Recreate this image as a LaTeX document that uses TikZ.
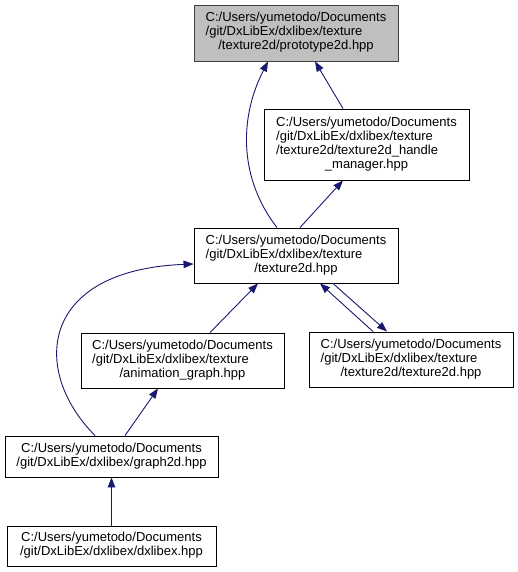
\documentclass[tikz,border=0pt]{standalone}
\usepackage{fontspec}
\setmainfont{Liberation Sans}
\usetikzlibrary{arrows.meta}
\definecolor{edgeblue}{HTML}{191970}
\definecolor{topfill}{HTML}{BFBFBF}
\definecolor{topdraw}{HTML}{404040}
\newcommand{\dxlines}[2]{\begin{tabular}{@{}c@{}}\begin{tabular}[b]{@{}l@{}}#1\end{tabular}\\#2\end{tabular}}
\begin{document}
\begin{tikzpicture}[x=1pt,y=-1pt,
  box/.style={draw=black,line width=0.9pt,fill=white,inner sep=0pt,
    font=\fontsize{13}{14}\selectfont,text=black},
  topbox/.style={box,fill=topfill,draw=topdraw},
  edge/.style={draw=edgeblue,line width=0.9pt,
    -{Triangle[length=10pt,width=7.5pt]}}]
\useasboundingbox (0,0) rectangle (518,572);
\fill[white] (0,0) rectangle (518,572);
\node[topbox,minimum width=204pt,minimum height=56pt] (A) at (296,33)
  {\dxlines{C:/Users/yumetodo/Documents\\/git/DxLibEx/dxlibex/texture}{/texture2d/prototype2d.hpp}};
\node[box,minimum width=205pt,minimum height=71pt] (B) at (366.5,144.5)
  {\dxlines{C:/Users/yumetodo/Documents\\/git/DxLibEx/dxlibex/texture\\/texture2d/texture2d\_handle}{\_manager.hpp}};
\node[box,minimum width=204pt,minimum height=55pt] (C) at (296,255.5)
  {\dxlines{C:/Users/yumetodo/Documents\\/git/DxLibEx/dxlibex/texture}{/texture2d.hpp}};
\node[box,minimum width=203pt,minimum height=55pt] (D) at (182.5,360.5)
  {\dxlines{C:/Users/yumetodo/Documents\\/git/DxLibEx/dxlibex/texture}{/animation\_graph.hpp}};
\node[box,minimum width=204pt,minimum height=55pt] (E) at (411,359.5)
  {\dxlines{C:/Users/yumetodo/Documents\\/git/DxLibEx/dxlibex/texture}{/texture2d/texture2d.hpp}};
\node[box,minimum width=213pt,minimum height=41pt] (F) at (111.5,456.5)
  {\dxlines{C:/Users/yumetodo/Documents}{/git/DxLibEx/dxlibex/graph2d.hpp}};
\node[box,minimum width=209pt,minimum height=40pt] (G) at (111.5,546)
  {\dxlines{C:/Users/yumetodo/Documents}{/git/DxLibEx/dxlibex/dxlibex.hpp}};
% edges
\draw[edge] ([xshift=-19pt]C.north) .. controls (240,180) and (238,120) .. ([xshift=-28pt]A.south);
\draw[edge] ([xshift=-23.5pt]B.north) -- ([xshift=19pt]A.south);
\draw[edge] ([xshift=4pt]C.north) -- ([xshift=-23.5pt]B.south);
\draw[edge] ([xshift=27.5pt]D.north) -- ([xshift=-38pt]C.south);
\draw[edge] ([xshift=-38pt]E.north) -- ([xshift=24pt]C.south);
\draw[edge] ([xshift=37pt]C.south) -- ([xshift=-24pt]E.north);
\draw[edge] ([xshift=-16.5pt]F.north) .. controls (30,370) and (40,270) .. ([yshift=-8.5pt]C.west);
\draw[edge] ([xshift=13.5pt]F.north) -- ([xshift=-24.5pt]D.south);
\draw[edge] (G.north) -- (F.south);
\end{tikzpicture}
\end{document}
